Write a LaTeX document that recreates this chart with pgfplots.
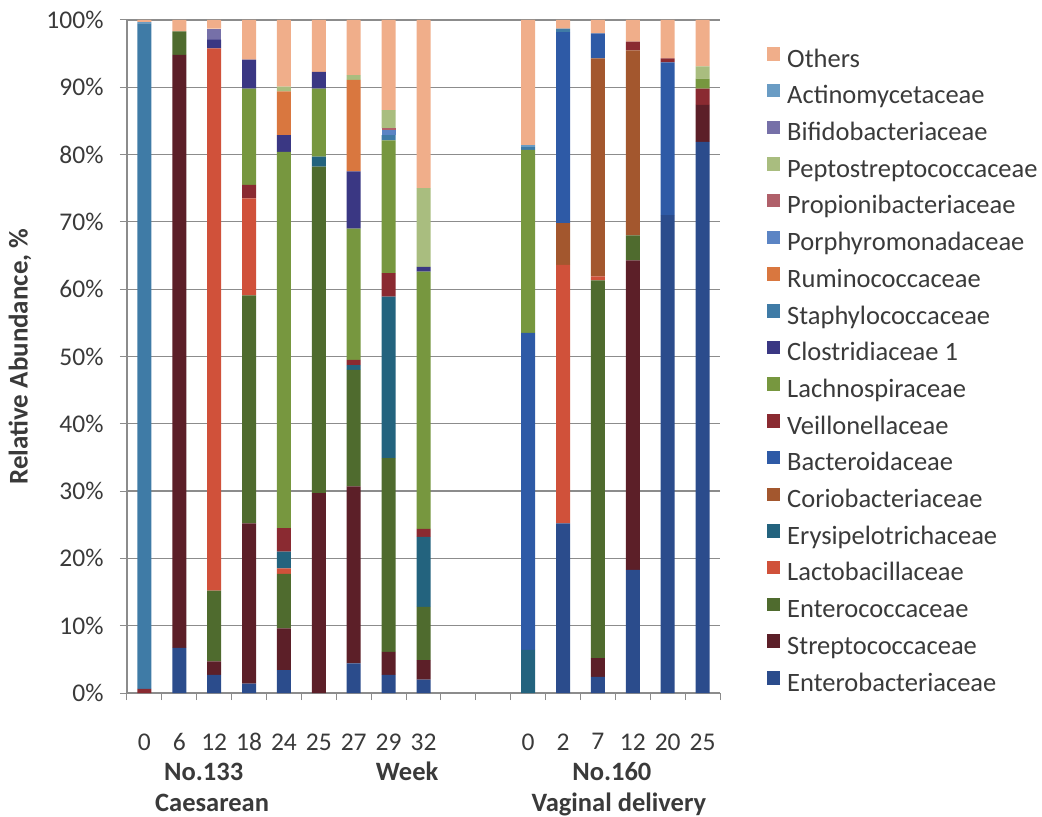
\documentclass[border=0pt]{standalone}
\usepackage{pgfplots}
\usepackage{pgfplotstable}
\pgfplotsset{compat=1.18}
\usepackage{fontspec}
\setmainfont{Carlito}

\definecolor{cEnt}{HTML}{2B4C8C}
\definecolor{cStr}{HTML}{5C1F28}
\definecolor{cEnc}{HTML}{4F6B2E}
\definecolor{cLac}{HTML}{D0513A}
\definecolor{cEry}{HTML}{23637E}
\definecolor{cCor}{HTML}{A3572E}
\definecolor{cBac}{HTML}{2E5AA6}
\definecolor{cVei}{HTML}{8A2A31}
\definecolor{cLch}{HTML}{77973F}
\definecolor{cClo}{HTML}{3A3783}
\definecolor{cSta}{HTML}{3F7BA6}
\definecolor{cRum}{HTML}{D9773F}
\definecolor{cPor}{HTML}{5B84C4}
\definecolor{cPro}{HTML}{B0606A}
\definecolor{cPep}{HTML}{A9BD7F}
\definecolor{cBif}{HTML}{7670A8}
\definecolor{cAct}{HTML}{6A9CC4}
\definecolor{cOth}{HTML}{F0AE8A}
\definecolor{axgray}{HTML}{8C8C8C}
\definecolor{txt}{HTML}{3A3A3A}

% x: 0-8 = No.133 weeks 0..32 ; 11-16 = No.160 weeks 0..25
\pgfplotstableread{
x  Ent  Str  Enc  Lac  Ery  Cor  Bac  Vei  Lch  Clo  Sta  Rum  Por  Pro  Pep  Bif  Act  Oth
0  0    0    0    0    0    0    0    0.6  0    0    98.9 0    0    0    0    0    0.2  0.3
1  6.7  88.1 3.5  0    0    0    0    0    0    0    0    0    0    0    0    0    0    1.7
2  2.7  2.0  10.5 80.6 0    0    0    0    0    1.3  0    0    0    0    0    1.6  0    1.3
3  1.4  23.8 33.9 14.4 0    0    0    2.0  14.3 4.3  0    0    0    0    0    0    0    5.9
4  3.4  6.2  8.1  0.8  2.5  0    0    3.5  55.9 2.5  0    6.5  0    0    0.7  0    0    9.9
5  0    29.7 48.5 0    1.5  0    0    0    10.1 2.5  0    0    0    0    0    0    0    7.7
6  4.4  26.3 17.3 0    0.7  0    0    0.8  19.5 8.5  0    13.6 0    0    0.7  0    0    8.2
7  2.7  3.4  28.8 0    24.0 0    0    3.5  19.7 0    0.8  0    0.7  0.3  2.7  0    0    13.4
8  2.0  2.9  7.9  0    10.4 0    0    1.2  38.2 0.7  0    0    0    0    11.7 0    0    25.0
11 0    0    0    0    6.4  0    47.1 0    27.2 0    0.4  0    0    0    0    0    0.3  18.6
12 25.2 0    0    38.4 0    6.2  28.4 0    0    0    0.5  0    0    0    0    0    0    1.3
13 2.4  2.8  56.1 0.6  0    32.4 3.7  0    0    0    0    0    0    0    0    0    0    2.0
14 18.3 46.0 3.7  0    0    27.5 0    1.3  0    0    0    0    0    0    0    0    0    3.2
15 71.0 0    0    0    0    0    22.7 0.6  0    0    0    0    0    0    0    0    0    5.7
16 81.9 5.5  0    0    0    0    0    2.4  1.5  0    0    0    0    0    1.8  0    0    6.9
}\data

\begin{document}
\begin{tikzpicture}
\useasboundingbox (-127bp,-124bp) rectangle (915bp,693bp);
\begin{axis}[
  at={(0,0)}, anchor=south west,
  scale only axis, width=593bp, height=673bp,
  clip mode=individual,
  ybar stacked, bar width=14bp,
  xmin=-0.5, xmax=16.5, ymin=0, ymax=100,
  xtick={0,1,2,3,4,5,6,7,8,11,12,13,14,15,16},
  xticklabels={0,6,12,18,24,25,27,29,32,0,2,7,12,20,25},
  major x tick style={draw=none},
  minor xtick={-0.5,0.5,...,16.5},
  minor x tick style={draw=axgray, line width=1bp},
  minor tick length=7bp,
  ytick={0,10,...,100},
  yticklabel={\pgfmathprintnumber{\tick}\%},
  major y tick style={draw=axgray, line width=1bp},
  major tick length=7bp,
  tick align=outside,
  axis x line*=bottom, axis y line*=left,
  axis line style={draw=axgray, line width=1.2bp, -},
  ymajorgrids, grid style={draw=axgray, line width=1.2bp},
  /pgf/number format/assume math mode=true,
  tick label style={font=\fontsize{25.5bp}{30bp}\selectfont, text=txt},
  xticklabel style={yshift=-30bp},
  yticklabel style={xshift=-13bp},
  every axis y label/.style={at={(axis description cs:-0.1804,0.5)}, rotate=90, anchor=center,
     font=\fontsize{27bp}{30bp}\selectfont\bfseries, text=txt},
  ylabel={Relative Abundance, \%},
  reverse legend,
  legend cell align=left,
  legend image code/.code={\fill[#1,draw=none] (0bp,0.5bp) rectangle (13bp,14bp);},
  legend style={draw=none, fill=none, inner sep=0pt,
     at={(axis description cs:1.0793,0.960)}, anchor=north west,
     font=\fontsize{26.5bp}{30bp}\selectfont, text=txt,
     nodes={inner sep=0pt, text height=18bp, text depth=6bp},
     row sep=10.7bp, column sep=7bp},
]
\addplot[fill=cEnt, draw=none] table[x=x, y=Ent] {\data};
\addplot[fill=cStr, draw=none] table[x=x, y=Str] {\data};
\addplot[fill=cEnc, draw=none] table[x=x, y=Enc] {\data};
\addplot[fill=cLac, draw=none] table[x=x, y=Lac] {\data};
\addplot[fill=cEry, draw=none] table[x=x, y=Ery] {\data};
\addplot[fill=cCor, draw=none] table[x=x, y=Cor] {\data};
\addplot[fill=cBac, draw=none] table[x=x, y=Bac] {\data};
\addplot[fill=cVei, draw=none] table[x=x, y=Vei] {\data};
\addplot[fill=cLch, draw=none] table[x=x, y=Lch] {\data};
\addplot[fill=cClo, draw=none] table[x=x, y=Clo] {\data};
\addplot[fill=cSta, draw=none] table[x=x, y=Sta] {\data};
\addplot[fill=cRum, draw=none] table[x=x, y=Rum] {\data};
\addplot[fill=cPor, draw=none] table[x=x, y=Por] {\data};
\addplot[fill=cPro, draw=none] table[x=x, y=Pro] {\data};
\addplot[fill=cPep, draw=none] table[x=x, y=Pep] {\data};
\addplot[fill=cBif, draw=none] table[x=x, y=Bif] {\data};
\addplot[fill=cAct, draw=none] table[x=x, y=Act] {\data};
\addplot[fill=cOth, draw=none] table[x=x, y=Oth] {\data};
\legend{Enterobacteriaceae, Streptococcaceae, Enterococcaceae, Lactobacillaceae,
  Erysipelotrichaceae, Coriobacteriaceae, Bacteroidaceae, Veillonellaceae,
  Lachnospiraceae, Clostridiaceae 1, Staphylococcaceae, Ruminococcaceae,
  Porphyromonadaceae, Propionibacteriaceae, Peptostreptococcaceae,
  Bifidobacteriaceae, Actinomycetaceae, Others}
\node[font=\fontsize{26.5bp}{30bp}\selectfont\bfseries, text=txt, anchor=base]
  at (axis cs:1.70,0) [yshift=-87bp] {No.133};
\node[font=\fontsize{26.5bp}{30bp}\selectfont\bfseries, text=txt, anchor=base]
  at (axis cs:1.94,0) [yshift=-118bp] {Caesarean};
\node[font=\fontsize{26.5bp}{30bp}\selectfont\bfseries, text=txt, anchor=base]
  at (axis cs:7.53,0) [yshift=-87bp] {Week};
\node[font=\fontsize{26.5bp}{30bp}\selectfont\bfseries, text=txt, anchor=base]
  at (axis cs:13.40,0) [yshift=-87bp] {No.160};
\node[font=\fontsize{26.5bp}{30bp}\selectfont\bfseries, text=txt, anchor=base]
  at (axis cs:13.60,0) [yshift=-118bp] {Vaginal delivery};
\end{axis}
\end{tikzpicture}
\end{document}
